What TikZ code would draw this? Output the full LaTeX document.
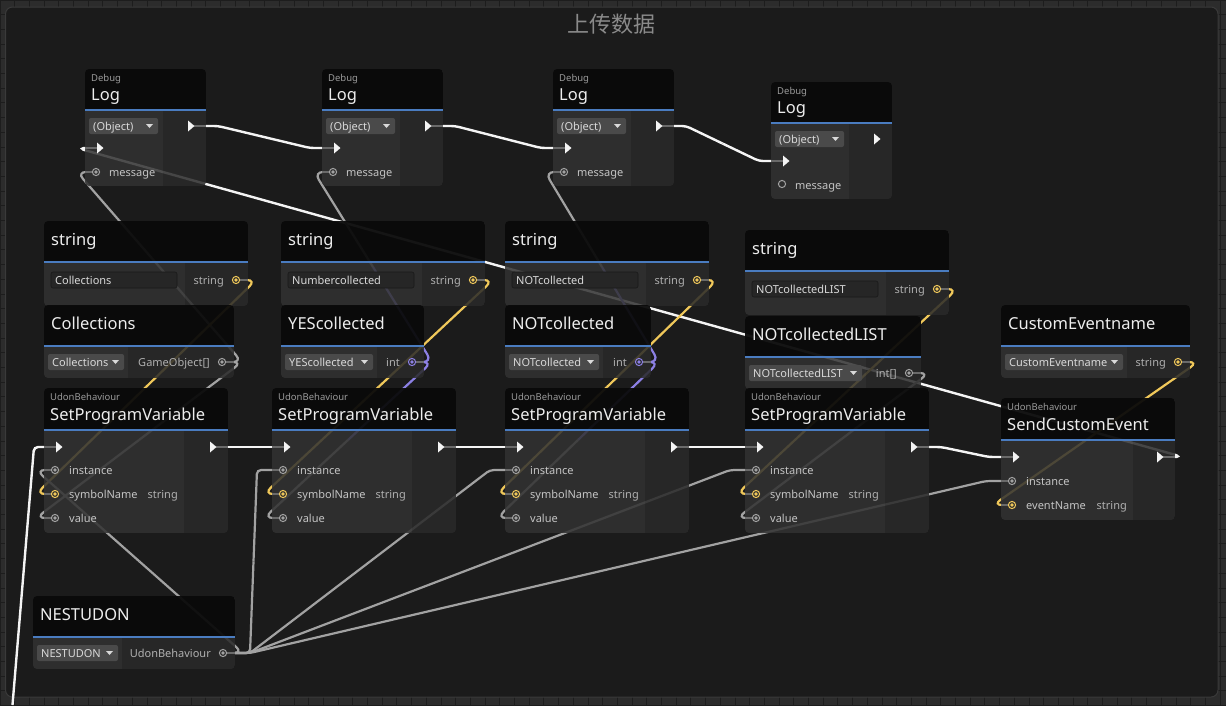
\documentclass[tikz,border=0pt]{standalone}
\usepackage{fontspec}
\setmainfont{Noto Sans}
\newfontfamily\cjk{Noto Sans CJK SC}
\usetikzlibrary{calc}

\definecolor{outerbg}{HTML}{2C2C2C}
\definecolor{gridline}{HTML}{1D1D1D}
\definecolor{groupbg}{HTML}{1B1B1B}
\definecolor{groupedge}{HTML}{3A3A3A}
\definecolor{headbg}{HTML}{0A0A0A}
\definecolor{leftbg}{HTML}{323232}
\definecolor{rightbg}{HTML}{2A2A2A}
\definecolor{blueln}{HTML}{4A7CC0}
\definecolor{dropbg}{HTML}{4A4A4A}
\definecolor{fieldbg}{HTML}{262626}
\definecolor{lblgrey}{HTML}{C4C4C4}
\definecolor{catgrey}{HTML}{9A9A9A}
\definecolor{titlegrey}{HTML}{8A8A8A}
\definecolor{wiregrey}{HTML}{A2A2A2}
\definecolor{stubgrey}{HTML}{6A6A6A}
\definecolor{wireyel}{RGB}{240,200,90}
\definecolor{wirepur}{RGB}{140,128,228}
\definecolor{flowwhite}{HTML}{F4F4F4}

\pgfdeclarelayer{canvas}
\pgfdeclarelayer{wires}
\pgfsetlayers{canvas,wires,main}

\tikzset{
  flowwire/.style={draw=flowwhite, line width=2.4pt, rounded corners=4pt},
  greywire/.style={draw=wiregrey, line width=2.2pt, rounded corners=4pt},
  yelwire/.style={draw=wireyel, line width=2.2pt, rounded corners=4pt},
  purwire/.style={draw=wirepur, line width=2.2pt, rounded corners=4pt},
  backwire/.style={rounded corners=9pt},
  portstub/.style={draw=stubgrey, line width=2pt},
  nostub/.style={draw=none},
  titletext/.style={anchor=base west, inner sep=0pt, text=white!93!black, font=\fontsize{16.5}{18}\selectfont},
  cattext/.style={anchor=base west, inner sep=0pt, text=catgrey, font=\fontsize{9.5}{11}\selectfont},
  portlabel/.style={anchor=base west, inner sep=0pt, text=lblgrey, font=\fontsize{11}{13}\selectfont},
  typelabel/.style={anchor=base east, inner sep=0pt, text=lblgrey!90!black, font=\fontsize{11}{13}\selectfont},
  droptext/.style={anchor=base west, inner sep=0pt, text=white!85!black, font=\fontsize{11}{13}\selectfont},
}

% 节点外框: x1, y1, x2, y2, 蓝线y, 分栏x
\newcommand{\udonbox}[6]{%
  \begin{scope}
    \clip[rounded corners=4pt] (#1,#2) rectangle (#3,#4);
    \fill[headbg, fill opacity=.95] (#1,#2) rectangle (#3,#5);
    \fill[leftbg, fill opacity=.86] (#1,#5) rectangle (#6,#4);
    \fill[rightbg, fill opacity=.86] (#6,#5) rectangle (#3,#4);
    \draw[blueln, line width=2pt] (#1,#5) -- (#3,#5);
  \end{scope}}

% 下拉框
\newcommand{\dropdown}[5]{%
  \fill[dropbg, rounded corners=2pt] (#2,#4-8) rectangle (#3,#4+8);
  \node[droptext] (#1) at (#2+4,#4+4) {#5};
  \fill[white!85!black] (#3-12,#4-2) -- (#3-5,#4-2) -- (#3-8.5,#4+2) -- cycle;}

% 端口
\newcommand{\flowin}[3]{%
  \draw[portstub] (#2,#3) -- (#2+12,#3);
  \fill[flowwhite] (#2+12,#3-5.5) -- (#2+18.5,#3) -- (#2+12,#3+5.5) -- cycle;
  \coordinate (#1) at (#2,#3);}
\newcommand{\flowout}[4][portstub]{%
  \draw[#1] (#3-12,#4) -- (#3,#4);
  \fill[flowwhite] (#3-18,#4-5.5) -- (#3-11.5,#4) -- (#3-18,#4+5.5) -- cycle;
  \coordinate (#2) at (#3,#4);}
\newcommand{\inport}[4]{%
  \draw[portstub] (#2,#3) -- (#2+7,#3);
  \draw[#4, line width=1pt] (#2+11,#3) circle (3.6pt);
  \fill[#4] (#2+11,#3) circle (1.9pt);
  \coordinate (#1) at (#2,#3);}
\newcommand{\outport}[4]{%
  \draw[portstub] (#2-8,#3) -- (#2,#3);
  \draw[#4, line width=1pt] (#2-12,#3) circle (3.6pt);
  \fill[#4] (#2-12,#3) circle (1.9pt);
  \coordinate (#1) at (#2,#3);}

% 连线: [引出长度] 输出端样式, 输入端样式, 起点, 终点
\newcommand{\wire}[5][12]{%
  \coordinate (w-a) at ([xshift=#1pt]#4);
  \coordinate (w-b) at ([xshift=-#1pt]#5);
  \draw[#2] (#4) -- (w-a) -- ($(w-a)!.5!(w-b)$);
  \draw[#3] ($(w-a)!.5!(w-b)$) -- (w-b) -- (#5);}

% Debug.Log
\newcommand{\lognode}[4]{%
  \udonbox{#2}{#3}{#2+121}{#3+117}{#3+41}{#2+78}
  \node[cattext] (#1-cat) at (#2+6,#3+12) {Debug};
  \node[titletext] (#1-title) at (#2+6,#3+31.7) {Log};
  \dropdown{#1-drop}{#2+4}{#2+73}{#3+57}{(Object)}
  \flowin{#1-in}{#2}{#3+79}
  \node[portlabel] (#1-msglbl) at (#2+24,#3+107) {message};
  \flowout[#4]{#1-out}{#2+121}{#3+57}}

% 字符串常量
\newcommand{\strnode}[4]{%
  \udonbox{#2}{#3}{#2+204}{#3+85}{#3+41}{#2+141}
  \node[titletext] (#1-title) at (#2+7,#3+24) {string};
  \filldraw[fill=fieldbg, draw=black!90, line width=.6pt, rounded corners=2pt] (#2+7,#3+51) rectangle (#2+133,#3+67);
  \node[droptext] (#1-val) at (#2+11,#3+63) {#4};
  \node[typelabel] (#1-type) at (#2+180,#3+63) {string};
  \outport{#1-out}{#2+204}{#3+59}{wireyel}}

% 变量
\newcommand{\varnode}[8]{%
  \udonbox{#2}{#3}{#4}{#3+73}{#3+41}{#5}
  \node[titletext] (#1-title) at (#2+7,#3+24) {#6};
  \dropdown{#1-drop}{#2+4}{#5-4}{#3+57}{#6}
  \node[typelabel] (#1-type) at (#4-24,#3+61) {#7};
  \outport{#1-out}{#4}{#3+57}{#8}}

% SetProgramVariable
\newcommand{\spvnode}[2]{%
  \udonbox{#2}{388}{#2+184}{533}{430}{#2+140}
  \node[cattext] (#1-cat) at (#2+6,400) {UdonBehaviour};
  \node[titletext] (#1-title) at (#2+6,420) {SetProgramVariable};
  \flowin{#1-in}{#2}{447}
  \flowout{#1-out}{#2+184}{447}
  \inport{#1-inst}{#2}{470}{wiregrey}
  \inport{#1-sym}{#2}{494}{wireyel}
  \inport{#1-val}{#2}{518}{wiregrey}
  \node[portlabel] (#1-instlbl) at (#2+25,474) {instance};
  \node[portlabel] (#1-symlbl) at (#2+25,498) {symbolName};
  \node[typelabel] (#1-symtype) at (#2+134,498) {string};
  \node[portlabel] (#1-vallbl) at (#2+25,522) {value};}

\begin{document}
\begin{tikzpicture}[x=1pt, y=-1pt]
  \useasboundingbox (0,0) rectangle (1226,705);

  % 画布与分组框
  \begin{pgfonlayer}{canvas}
    \fill[outerbg] (0,0) rectangle (1226,705);
    \foreach \g in {0,14.7,...,1230} {
      \draw[gridline, line width=.9pt] (\g,0) -- (\g,705);
      \draw[gridline, line width=.9pt] (0,\g) -- (1226,\g);
    }
    \filldraw[fill=groupbg, draw=groupedge, line width=1pt, rounded corners=7pt] (5.5,7) rectangle (1218,697);
  \end{pgfonlayer}
  \node[text=titlegrey, font=\cjk\fontsize{22}{24}\selectfont] (grouptitle) at (611,24) {上传数据};

  % Log 节点
  \lognode{log1}{85}{69}{portstub}
  \lognode{log2}{322}{69}{portstub}
  \lognode{log3}{553}{69}{portstub}
  \lognode{log4}{771}{82}{nostub}
  \inport{log1-msg}{85}{172}{wiregrey}
  \inport{log2-msg}{322}{172}{wiregrey}
  \inport{log3-msg}{553}{172}{wiregrey}
  \draw[wiregrey, line width=1pt] (782,184) circle (3.6pt);

  % 字符串
  \strnode{str1}{44}{221}{Collections}
  \strnode{str2}{281}{221}{Numbercollected}
  \strnode{str3}{505}{221}{NOTcollected}
  \strnode{str4}{745}{230}{NOTcollectedLIST}

  % 变量
  \varnode{coll}{44}{305}{234}{128}{Collections}{GameObject[]}{wiregrey}
  \varnode{yes}{281}{305}{424}{377}{YEScollected}{int}{wirepur}
  \varnode{notc}{505}{305}{651}{603}{NOTcollected}{int}{wirepur}
  \varnode{list}{745}{316}{921}{866}{NOTcollectedLIST}{int[]}{wiregrey}
  \varnode{cen}{1001}{305}{1190}{1127}{CustomEventname}{string}{wireyel}
  \varnode{nest}{33}{596}{235}{122}{NESTUDON}{UdonBehaviour}{wiregrey}

  % SetProgramVariable x4
  \spvnode{spv1}{44}
  \spvnode{spv2}{272}
  \spvnode{spv3}{505}
  \spvnode{spv4}{745}

  % SendCustomEvent
  \udonbox{1001}{398}{1175}{520}{440}{1133}
  \node[cattext] (sce-cat) at (1007,410) {UdonBehaviour};
  \node[titletext] (sce-title) at (1007,430) {SendCustomEvent};
  \flowin{sce-in}{1001}{457}
  \flowout{sce-out}{1175}{457}
  \inport{sce-inst}{1001}{481}{wiregrey}
  \inport{sce-evt}{1001}{505}{wireyel}
  \node[portlabel] (sce-instlbl) at (1026,485) {instance};
  \node[portlabel] (sce-evtlbl) at (1026,509) {eventName};
  \node[typelabel] (sce-evttype) at (1127,509) {string};

  \coordinate (entry-end) at (12.5,705);

  % 连线
  \begin{pgfonlayer}{wires}
    \wire{flowwire}{flowwire}{log1-out}{log2-in}
    \wire{flowwire}{flowwire}{log2-out}{log3-in}
    \wire{flowwire}{flowwire}{log3-out}{log4-in}
    \wire[8]{flowwire,backwire}{flowwire,backwire}{sce-out}{log1-in}
    \wire{flowwire}{flowwire}{spv1-out}{spv2-in}
    \wire{flowwire}{flowwire}{spv2-out}{spv3-in}
    \wire{flowwire}{flowwire}{spv3-out}{spv4-in}
    \wire{flowwire}{flowwire}{spv4-out}{sce-in}
    \draw[flowwire] (spv1-in) -- ([xshift=-10pt]spv1-in) -- (entry-end);

    \wire[8]{greywire,backwire}{greywire,backwire}{coll-out}{log1-msg}
    \wire[8]{greywire,backwire}{greywire,backwire}{coll-out}{spv1-val}
    \wire[8]{purwire,backwire}{greywire,backwire}{yes-out}{log2-msg}
    \wire[8]{purwire,backwire}{greywire,backwire}{yes-out}{spv2-val}
    \wire[8]{purwire,backwire}{greywire,backwire}{notc-out}{log3-msg}
    \wire[8]{purwire,backwire}{greywire,backwire}{notc-out}{spv3-val}
    \wire[8]{greywire,backwire}{greywire,backwire}{list-out}{spv4-val}

    \wire[8]{yelwire,backwire}{yelwire,backwire}{str1-out}{spv1-sym}
    \wire[8]{yelwire,backwire}{yelwire,backwire}{str2-out}{spv2-sym}
    \wire[8]{yelwire,backwire}{yelwire,backwire}{str3-out}{spv3-sym}
    \wire[8]{yelwire,backwire}{yelwire,backwire}{str4-out}{spv4-sym}
    \wire[8]{yelwire,backwire}{yelwire,backwire}{cen-out}{sce-evt}

    \wire[8]{greywire,backwire}{greywire,backwire}{nest-out}{spv1-inst}
    \wire[15]{greywire}{greywire}{nest-out}{spv2-inst}
    \wire[15]{greywire}{greywire}{nest-out}{spv3-inst}
    \wire[15]{greywire}{greywire}{nest-out}{spv4-inst}
    \wire[15]{greywire}{greywire}{nest-out}{sce-inst}
  \end{pgfonlayer}
\end{tikzpicture}
\end{document}
